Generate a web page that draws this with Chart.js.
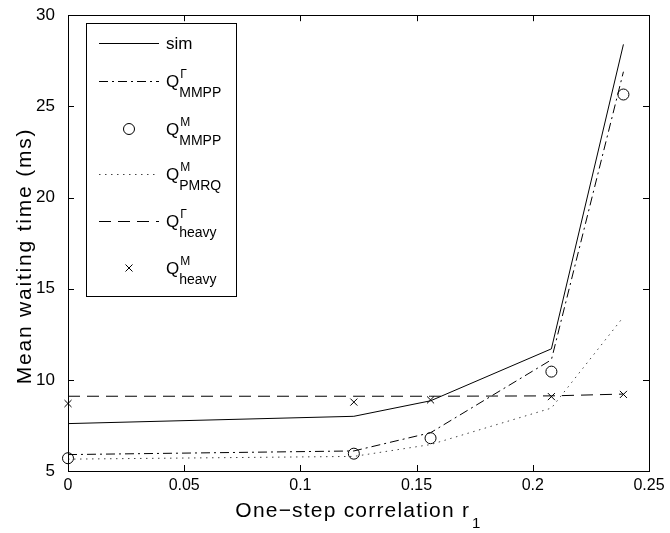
<!DOCTYPE html>
<html lang="en">
  <head>
    <meta charset="UTF-8" />
    <script src="https://cdn.jsdelivr.net/npm/chart.js@4.4.0/dist/chart.umd.min.js"></script>
    <title>Mean waiting time</title>
    <style>
      body {
        margin: 0;
        padding: 0;
        background: white;
      }
      .container {
        width: 670px;
        height: 533px;
      }
    </style>
  </head>
  <body>
    <div class="container">
      <canvas id="chart" width="670" height="533"></canvas>
    </div>
    <script>
      const xValues = [0, 0.123, 0.156, 0.208, 0.239]
      const sim = [7.6, 8.0, 8.85, 11.7, 28.4]
      const qGammaMMPP = [5.9, 6.1, 7.1, 11.1, 26.9]
      const qMMMPP = [5.7, 5.95, 6.8, 10.45, 25.65]
      const qMPMRQ = [5.65, 5.8, 6.45, 8.45, 13.45]
      const qGammaHeavy = [9.1, 9.1, 9.1, 9.12, 9.22]
      const qMHeavy = [8.7, 8.78, 8.9, 9.08, 9.2]

      const xTicks = [0, 0.05, 0.1, 0.15, 0.2, 0.25]
      const yTicks = [5, 10, 15, 20, 25, 30]

      // legend text: base, superscript, subscript
      const legendBase = ['sim', 'Q', 'Q', 'Q', 'Q', 'Q']
      const legendSup = ['', 'Γ', 'M', 'M', 'Γ', 'M']
      const legendSub = ['', 'MMPP', 'MMPP', 'PMRQ', 'heavy', 'heavy']

      const xTitle = 'One−step correlation r'
      const xTitleSub = '1'
      const yTitle = 'Mean waiting time (ms)'

      const FONT = '"Liberation Sans", Arial, sans-serif'
      const pts = (ys) => xValues.map((x, i) => ({ x: x, y: ys[i] }))

      const lineSet = (ys, dash, color) => ({
        data: pts(ys),
        showLine: true,
        borderColor: color || '#000',
        borderWidth: 1,
        borderDash: dash,
        pointRadius: 0,
        tension: 0,
        clip: false,
      })
      const markSet = (ys, style, r) => ({
        data: pts(ys),
        showLine: false,
        pointStyle: style,
        pointRadius: r,
        pointBorderColor: '#000',
        pointBackgroundColor: 'rgba(0,0,0,0)',
        pointBorderWidth: 1,
        clip: false,
      })

      const datasets = [
        lineSet(sim, []),
        lineSet(qGammaMMPP, [9, 4, 2, 4]),
        markSet(qMMMPP, 'circle', 5.5),
        lineSet(qMPMRQ, [1.5, 4.5], '#444'),
        lineSet(qGammaHeavy, [12, 7]),
        markSet(qMHeavy, 'crossRot', 5),
      ]

      const decor = {
        id: 'decor',
        afterDraw(chart) {
          const ctx = chart.ctx
          const a = chart.chartArea
          const xs = chart.scales.x
          const ys = chart.scales.y
          ctx.save()
          ctx.strokeStyle = '#000'
          ctx.lineWidth = 1
          // box
          ctx.strokeRect(Math.round(a.left) + 0.5, Math.round(a.top) + 0.5,
            Math.round(a.right - a.left), Math.round(a.bottom - a.top))
          // inward ticks
          const tl = 6
          ctx.beginPath()
          xTicks.forEach((t) => {
            const px = Math.round(xs.getPixelForValue(t)) + 0.5
            ctx.moveTo(px, a.bottom); ctx.lineTo(px, a.bottom - tl)
            ctx.moveTo(px, a.top); ctx.lineTo(px, a.top + tl)
          })
          yTicks.forEach((t) => {
            const py = Math.round(ys.getPixelForValue(t)) + 0.5
            ctx.moveTo(a.left, py); ctx.lineTo(a.left + tl, py)
            ctx.moveTo(a.right, py); ctx.lineTo(a.right - tl, py)
          })
          ctx.stroke()

          // axis titles
          ctx.fillStyle = '#000'
          ctx.textBaseline = 'alphabetic'
          ctx.textAlign = 'left'
          ctx.font = '21px ' + FONT
          ctx.letterSpacing = '1.2px'
          const w1 = ctx.measureText(xTitle).width
          ctx.font = '15px ' + FONT
          const w2 = ctx.measureText(xTitleSub).width
          const cx = (a.left + a.right) / 2
          const sx = cx - (w1 + w2 + 2) / 2
          ctx.font = '21px ' + FONT
          ctx.fillText(xTitle, sx, 517)
          ctx.font = '15px ' + FONT
          ctx.fillText(xTitleSub, sx + w1 + 2, 528)

          ctx.save()
          ctx.translate(31, 256)
          ctx.rotate(-Math.PI / 2)
          ctx.font = '21px ' + FONT
          ctx.letterSpacing = '1.8px'
          ctx.textAlign = 'center'
          ctx.fillText(yTitle, 0, 0)
          ctx.restore()
          ctx.letterSpacing = '0px'

          // legend
          const lx = 86.5, ly = 23.5, lw = 150, lh = 273
          ctx.fillStyle = '#fff'
          ctx.fillRect(lx, ly, lw, lh)
          ctx.strokeStyle = '#000'
          ctx.setLineDash([])
          ctx.strokeRect(lx, ly, lw, lh)
          const rowY = [43, 81, 129, 174, 221, 268]
          datasets.forEach((ds, i) => {
            const y = rowY[i]
            ctx.save()
            ctx.strokeStyle = ds.borderColor || '#000'
            ctx.lineWidth = 1
            if (ds.showLine) {
              ctx.setLineDash(ds.borderDash)
              ctx.beginPath()
              ctx.moveTo(99, y + 0.5)
              ctx.lineTo(159, y + 0.5)
              ctx.stroke()
            } else {
              ctx.setLineDash([])
              ctx.strokeStyle = '#000'
              ctx.beginPath()
              if (ds.pointStyle === 'circle') {
                ctx.arc(129, y, 5.5, 0, Math.PI * 2)
              } else {
                const r = 3.5
                ctx.moveTo(129 - r, y - r); ctx.lineTo(129 + r, y + r)
                ctx.moveTo(129 - r, y + r); ctx.lineTo(129 + r, y - r)
              }
              ctx.stroke()
            }
            ctx.restore()
            ctx.fillStyle = '#000'
            ctx.textAlign = 'left'
            ctx.font = '17px ' + FONT
            ctx.fillText(legendBase[i], 166, y + 6)
            if (legendSub[i]) {
              const qw = ctx.measureText(legendBase[i]).width
              ctx.font = '12px ' + FONT
              ctx.fillText(legendSup[i], 167 + qw, y - 3)
              ctx.font = '14px ' + FONT
              ctx.fillText(legendSub[i], 166 + qw, y + 16)
            }
          })
          ctx.restore()
        },
      }

      new Chart(document.getElementById('chart').getContext('2d'), {
        type: 'scatter',
        data: { datasets: datasets },
        options: {
          responsive: false,
          animation: false,
          layout: { padding: { top: 13, right: 21, left: 0, bottom: 0 } },
          plugins: {
            legend: { display: false },
            tooltip: { enabled: false },
          },
          scales: {
            x: {
              type: 'linear',
              min: 0,
              max: 0.25,
              afterBuildTicks: (s) => { s.ticks = xTicks.map((v) => ({ value: v })) },
              afterFit: (s) => { s.height = 62 },
              grid: { display: false },
              border: { display: false },
              ticks: {
                color: '#000',
                font: { size: 16, family: FONT },
                padding: -3,
                maxRotation: 0,
                callback: (v) => String(Math.round(v * 100) / 100),
              },
            },
            y: {
              type: 'linear',
              min: 5,
              max: 30,
              afterBuildTicks: (s) => { s.ticks = yTicks.map((v) => ({ value: v })) },
              afterFit: (s) => { s.width = 68 },
              grid: { display: false },
              border: { display: false },
              ticks: {
                color: '#000',
                font: { size: 17, family: FONT },
                padding: 5,
              },
            },
          },
        },
        plugins: [decor],
      })
    </script>
  </body>
</html>
